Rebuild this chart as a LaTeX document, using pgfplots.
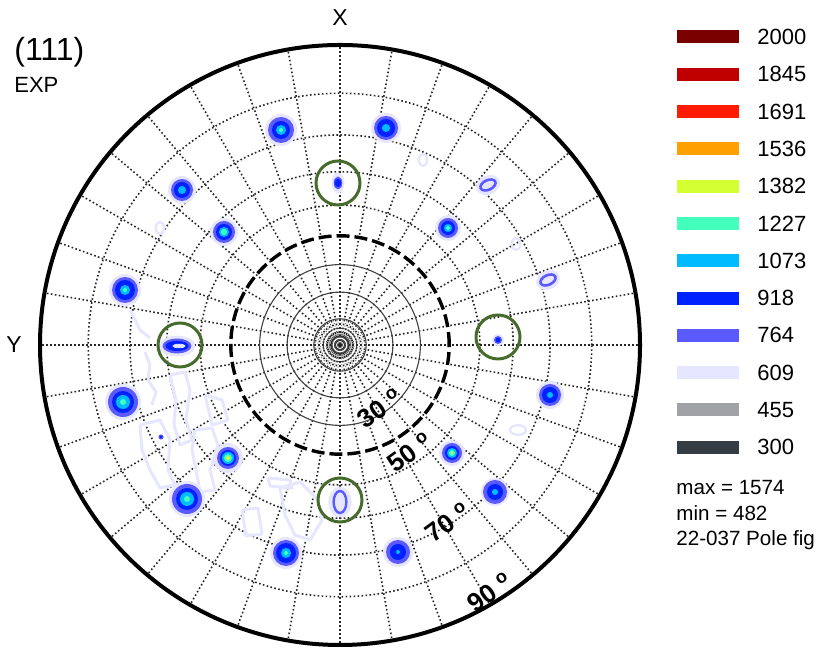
\documentclass[border=0pt]{standalone}
\usepackage{fontspec}
\setmainfont{Liberation Sans}
\usepackage{pgfplots}
\usepackage{pgfplotstable}
\pgfplotsset{compat=1.18}

% intensity levels
\definecolor{c2000}{HTML}{7A0000}
\definecolor{c1845}{HTML}{C00000}
\definecolor{c1691}{HTML}{FF1A00}
\definecolor{c1536}{HTML}{FFA000}
\definecolor{c1382}{HTML}{D4FF33}
\definecolor{c1227}{HTML}{44FFBB}
\definecolor{c1073}{HTML}{00BBFF}
\definecolor{c918}{HTML}{0022FF}
\definecolor{c764}{HTML}{5A5AFF}
\definecolor{c609}{HTML}{E6E6FF}
\definecolor{c455}{HTML}{A0A2A6}
\definecolor{c300}{HTML}{363C44}
\definecolor{mark green}{HTML}{466B2C}

% spot centres (units: 1 = 1/300 of the projection radius) and contour radii per level
\pgfplotstableread{
x     y     a   b    c    d  e  f
-59   215   16  13   9    5  2  0
46    217   15  12   9    4  0  0
-158  155   14  11   8    4  0  0
-116  113   14  11   8    5  3  0
108   117   13  10   7    4  2  0
-215  55    16  13   10   5  2  0
-217  -57   18  15   11   7  3  0
210   -50   14  11   8    3  0  0
-112  -113  15  11   8    6  4  2
112   -108  13  10   7    5  3  1.5
-153  -154  18  15   11   7  3  0
155   -147  14  12   8    3  0  0
-54   -208  16  13   10   5  2  0
58    -207  15  12   8    2  0  0
158   5     6   4    2.5  0  0  0
-179  -92   3   2.5  1.5  0  0  0
}\spots

\pgfplotsset{
  spot layer/.style 2 args={
    scatter, only marks, mark=*,
    scatter/use mapped color={draw opacity=0, fill=#2},
    visualization depends on={0.5*\thisrow{#1} \as \ms},
    scatter/@pre marker code/.append style={/tikz/mark size=\ms},
  },
}
\tikzset{
  griddot/.style={draw=black!85, line width=0.8pt, dash pattern=on 0.8pt off 1.2pt},
  ringsolid/.style={draw=black!75, line width=0.55pt},
  lvl/.style={font=\fontsize{11}{13}\selectfont, anchor=west, inner sep=0pt},
  deg/.style={font=\fontsize{13}{15}\selectfont\bfseries, rotate=36, inner sep=0pt},
}
\newcommand{\dg}{\textsuperscript{o}}

\begin{document}
\begin{tikzpicture}
\begin{axis}[
  name=pf,
  x=0.5pt, y=0.5pt,
  xmin=-340, xmax=477, ymin=-311, ymax=345,
  hide axis, clip=false,
]
% azimuthal grid lines every 10 degrees
\pgfplotsinvokeforeach{0,10,...,350}{
  \draw[griddot] (axis cs:0,0) -- (axis cs:{300*cos(#1)},{300*sin(#1)});
}
% denser lines near the pole
\pgfplotsinvokeforeach{5,15,...,355}{
  \draw[draw=black!70, line width=0.4pt, dash pattern=on 0.5pt off 0.9pt] (axis cs:{5*cos(#1)},{5*sin(#1)}) -- (axis cs:{26.25*cos(#1)},{26.25*sin(#1)});
}
\pgfplotsinvokeforeach{2.62,5.24,7.86,10.49}{
  \draw[draw=black!70, line width=0.35pt] (axis cs:0,0) circle[radius=#1];
}
% tilt circles (stereographic, 10 degree steps)
\draw[ringsolid] (axis cs:0,0) circle[radius=26.25];
\draw[ringsolid] (axis cs:0,0) circle[radius=52.90];
\draw[ringsolid] (axis cs:0,0) circle[radius=80.38];
\draw[black, line width=1.7pt, dash pattern=on 6.5pt off 2.5pt] (axis cs:0,0) circle[radius=109.19];
\draw[griddot] (axis cs:0,0) circle[radius=139.89];
\draw[griddot] (axis cs:0,0) circle[radius=173.21];
\draw[griddot] (axis cs:0,0) circle[radius=210.06];
\draw[griddot] (axis cs:0,0) circle[radius=251.73];

% weak background contours
\addplot[c609, line width=1.5pt, line join=round] coordinates {(-195,-7) (-190,-20) (-192,-35) (-184,-47) (-188,-60)};
\addplot[c609, line width=1.5pt, line join=round] coordinates {(-170,-30) (-155,-27) (-150,-45) (-154,-75) (-148,-95) (-160,-100) (-166,-80) (-164,-55) (-170,-30)};
\addplot[c609, line width=1.5pt, line join=round] coordinates {(-200,-80) (-180,-75) (-170,-95) (-172,-125) (-165,-140) (-180,-143) (-190,-125) (-198,-105) (-200,-80)};
\addplot[c609, line width=1.5pt, line join=round] coordinates {(-145,-85) (-128,-83) (-122,-100) (-130,-125) (-125,-145) (-140,-147) (-144,-125) (-148,-105) (-145,-85)};
\addplot[c609, line width=1.5pt, line join=round] coordinates {(-98,-165) (-82,-163) (-78,-189) (-94,-191) (-98,-165)};
\addplot[c609, line width=1.5pt, line join=round] coordinates {(-60,-143) (-40,-137) (-22,-155) (-18,-175) (-30,-195) (-45,-190) (-55,-170) (-60,-143)};
\addplot[c609, line width=1.5pt, line join=round] coordinates {(-72,-133) (-50,-135) (-48,-143) (-70,-141) (-72,-133)};
\addplot[c609, line width=1.5pt, line join=round] coordinates {(-210,35) (-200,15) (-190,7)};
\addplot[c609, line width=1.5pt, line join=round] coordinates {(-135,-50) (-118,-55) (-112,-75) (-128,-80) (-135,-50)};
\addplot[only marks, mark=o, mark size=3pt, mark options={draw=c609, line width=1.2pt, xscale=0.7}] coordinates {(83,185) (-180,117) (176,101)};
\addplot[only marks, mark=o, mark size=4pt, mark options={draw=c609, line width=1.2pt, yscale=0.6}] coordinates {(178,-85)};

% reflections
\addplot[spot layer={a}{c609}] table[x=x, y=y] {\spots};
\addplot[spot layer={b}{c764}] table[x=x, y=y] {\spots};
\addplot[spot layer={c}{c918}] table[x=x, y=y] {\spots};
\addplot[spot layer={d}{c1073}] table[x=x, y=y] {\spots};
\addplot[spot layer={e}{c1227}] table[x=x, y=y] {\spots};
\addplot[spot layer={f}{c1382}] table[x=x, y=y] {\spots};

% ring-shaped reflections
\addplot[only marks, mark=*, mark size=6pt, mark options={draw=c609, fill=c609, rotate=25, yscale=0.75}] coordinates {(148,160) (208,65)};
\addplot[only marks, mark=*, mark size=4pt, mark options={draw=c764, fill=c609, line width=1.3pt, rotate=25, yscale=0.6}] coordinates {(148,160) (208,65)};
\addplot[only marks, mark=*, mark size=7.5pt, mark options={draw=c609, fill=c609, xscale=0.75}] coordinates {(0,-157)};
\addplot[only marks, mark=*, mark size=5.5pt, mark options={draw=c764, fill=c609, line width=1.2pt, xscale=0.58}] coordinates {(0,-157)};
% elongated reflections
\addplot[only marks, mark=*, mark size=5pt, mark options={draw=c609, fill=c609, xscale=0.6}] coordinates {(-2,162)};
\addplot[only marks, mark=*, mark size=3pt, mark options={draw=c764, fill=c764, xscale=0.65}] coordinates {(-2,162)};
\addplot[only marks, mark=*, mark size=1.8pt, mark options={draw=c918, fill=c918, xscale=0.8}] coordinates {(-2,162)};
\addplot[only marks, mark=*, mark size=9pt, mark options={draw=c609, fill=c609, yscale=0.55}] coordinates {(-163,-1)};
\addplot[only marks, mark=*, mark size=7pt, mark options={draw=c764, fill=c764, yscale=0.5}] coordinates {(-163,-1)};
\addplot[only marks, mark=*, mark size=5.5pt, mark options={draw=c918, fill=c918, yscale=0.42}] coordinates {(-163,-1)};
\addplot[only marks, mark=*, mark size=3pt, mark options={draw=c609, fill=c609, yscale=0.3}] coordinates {(-161,-1)};

% highlighted reflections
\addplot[only marks, mark=o, mark size=11pt, mark options={draw=mark green, line width=1.5pt}] coordinates {(-2,162) (-160,0) (158,8) (0,-155)};

% outer circle
\draw[black, line width=2pt] (axis cs:0,0) circle[radius=300];

% tilt labels
\node[deg] at (axis cs:40,-63) {30 \dg};
\node[deg] at (axis cs:70,-107) {50 \dg};
\node[deg] at (axis cs:108,-177) {70 \dg};
\node[deg] at (axis cs:150,-247) {90 \dg};

% axis directions and title
\node[font=\fontsize{11.5}{13}\selectfont] at (axis cs:0,327) {X};
\node[font=\fontsize{11.5}{13}\selectfont] at (axis cs:-326,0) {Y};
\node[font=\fontsize{16}{18}\selectfont, anchor=west, inner sep=0pt] at (axis cs:-326,293) {(111)};
\node[font=\fontsize{11}{13}\selectfont, anchor=west, inner sep=0pt] at (axis cs:-326,260) {EXP};

% level key
\fill[c2000] (axis cs:337,301.5) rectangle (axis cs:399,314.5);
\fill[c1845] (axis cs:337,264.2) rectangle (axis cs:399,277.2);
\fill[c1691] (axis cs:337,226.9) rectangle (axis cs:399,239.9);
\fill[c1536] (axis cs:337,189.6) rectangle (axis cs:399,202.6);
\fill[c1382] (axis cs:337,152.3) rectangle (axis cs:399,165.3);
\fill[c1227] (axis cs:337,115.0) rectangle (axis cs:399,128.0);
\fill[c1073] (axis cs:337,77.7) rectangle (axis cs:399,90.7);
\fill[c918] (axis cs:337,40.4) rectangle (axis cs:399,53.4);
\fill[c764] (axis cs:337,3.1) rectangle (axis cs:399,16.1);
\fill[c609] (axis cs:337,-34.2) rectangle (axis cs:399,-21.2);
\fill[c455] (axis cs:337,-71.5) rectangle (axis cs:399,-58.5);
\fill[c300] (axis cs:337,-108.8) rectangle (axis cs:399,-95.8);
\node[lvl] at (axis cs:417,308) {2000};
\node[lvl] at (axis cs:417,270.7) {1845};
\node[lvl] at (axis cs:417,233.4) {1691};
\node[lvl] at (axis cs:417,196.1) {1536};
\node[lvl] at (axis cs:417,158.8) {1382};
\node[lvl] at (axis cs:417,121.5) {1227};
\node[lvl] at (axis cs:417,84.2) {1073};
\node[lvl] at (axis cs:417,46.9) {918};
\node[lvl] at (axis cs:417,9.6) {764};
\node[lvl] at (axis cs:417,-27.7) {609};
\node[lvl] at (axis cs:417,-65) {455};
\node[lvl] at (axis cs:417,-102.3) {300};
\node[font=\fontsize{10.3}{12}\selectfont, anchor=west, inner sep=0pt] at (axis cs:336,-143) {max = 1574};
\node[font=\fontsize{10.3}{12}\selectfont, anchor=west, inner sep=0pt] at (axis cs:336,-168) {min = 482};
\node[font=\fontsize{10.3}{12}\selectfont, anchor=west, inner sep=0pt] at (axis cs:336,-195) {22-037 Pole fig};
\end{axis}
\pgfresetboundingbox
\path[use as bounding box] (pf.south west) rectangle (pf.north east);
\end{tikzpicture}
\end{document}
